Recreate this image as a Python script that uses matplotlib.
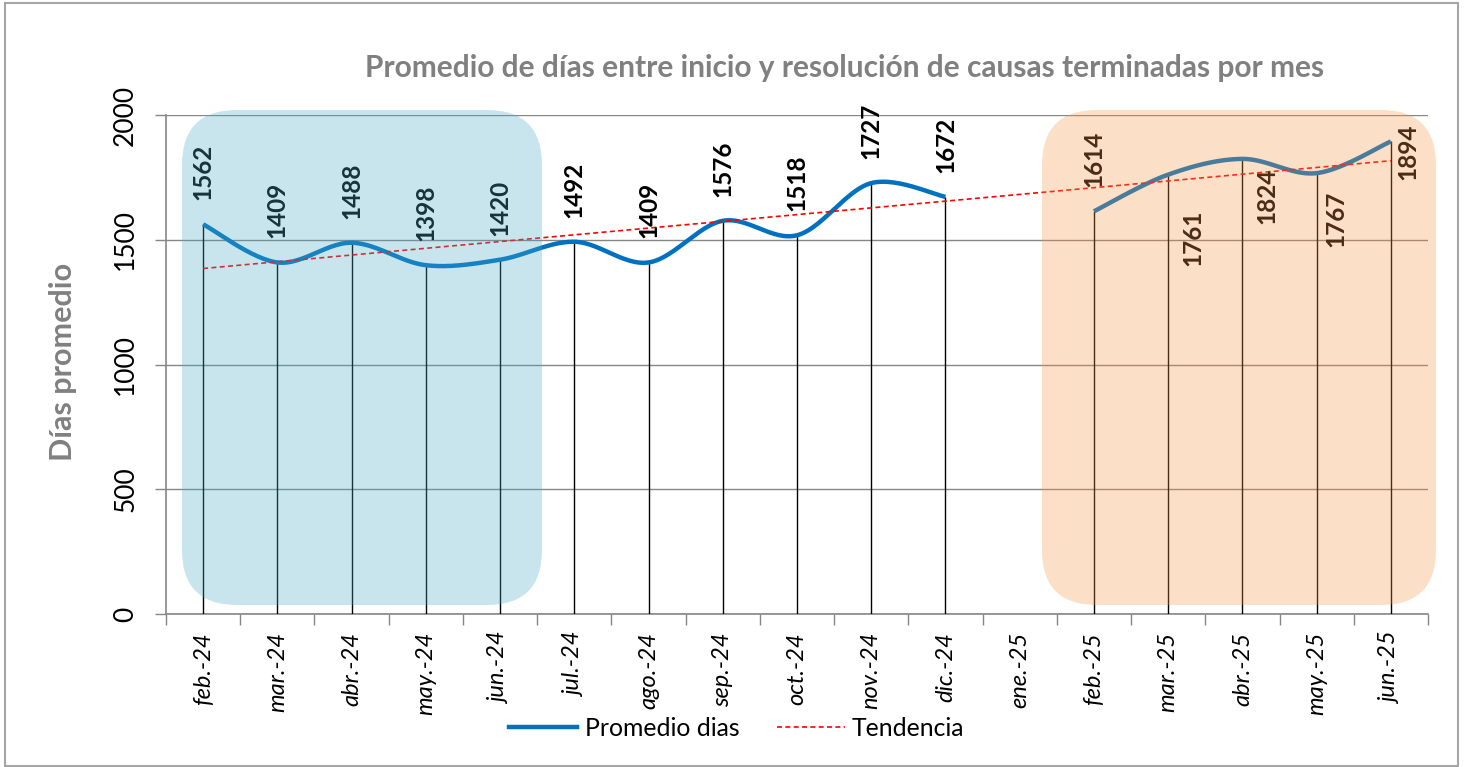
import numpy as np
import matplotlib
matplotlib.use("Agg")
import matplotlib.pyplot as plt
from matplotlib.patches import FancyBboxPatch, Rectangle
from matplotlib.lines import Line2D
from matplotlib.transforms import IdentityTransform

plt.rcParams['font.family'] = ['Lato', 'DejaVu Sans']

# ---------------- data ----------------
months = ["feb.-24", "mar.-24", "abr.-24", "may.-24", "jun.-24", "jul.-24", "ago.-24",
          "sep.-24", "oct.-24", "nov.-24", "dic.-24", "ene.-25", "feb.-25", "mar.-25",
          "abr.-25", "may.-25", "jun.-25"]
promedio = [1562, 1409, 1488, 1398, 1420, 1492, 1409, 1576, 1518, 1727, 1672,
            None, 1614, 1761, 1824, 1767, 1894]
title = "Promedio de días entre inicio y resolución de causas terminadas por mes"
ylabel = "Días promedio"
yticks = [0, 500, 1000, 1500, 2000]

# label offsets (pixels) for points whose label is not placed above
label_pos = {13: (25, -63), 14: (24, -37), 15: (19, -46), 16: (17, -10)}

W, H = 1467, 767
fig = plt.figure(figsize=(W / 100, H / 100), dpi=100)
ax = fig.add_axes([166 / W, 153 / H, (1428 - 166) / W, (652 - 153) / H])

x = np.arange(len(months), dtype=float)
y = np.array([np.nan if v is None else v for v in promedio], dtype=float)

# smoothed segments (Excel-like Catmull-Rom Bezier)
def smooth(xs, ys, n=30):
    px, py = [], []
    m = len(xs)
    for i in range(m - 1):
        x0, y0 = xs[max(i - 1, 0)], ys[max(i - 1, 0)]
        x1, y1 = xs[i], ys[i]
        x2, y2 = xs[i + 1], ys[i + 1]
        x3, y3 = xs[min(i + 2, m - 1)], ys[min(i + 2, m - 1)]
        c1x, c1y = x1 + (x2 - x0) / 6, y1 + (y2 - y0) / 6
        c2x, c2y = x2 - (x3 - x1) / 6, y2 - (y3 - y1) / 6
        t = np.linspace(0, 1, n)
        bx = (1 - t) ** 3 * x1 + 3 * (1 - t) ** 2 * t * c1x + 3 * (1 - t) * t ** 2 * c2x + t ** 3 * x2
        by = (1 - t) ** 3 * y1 + 3 * (1 - t) ** 2 * t * c1y + 3 * (1 - t) * t ** 2 * c2y + t ** 3 * y2
        px.extend(bx); py.extend(by)
    return np.array(px), np.array(py)

valid = ~np.isnan(y)
segs = []
cur = []
for i in range(len(x)):
    if valid[i]:
        cur.append(i)
    else:
        if cur:
            segs.append(cur)
        cur = []
if cur:
    segs.append(cur)

blue = "#0070C0"
for k, s in enumerate(segs):
    sx, sy = smooth(x[s], y[s])
    ax.plot(sx, sy, color=blue, lw=3.2, solid_capstyle='butt', zorder=4)

# drop lines
ax.vlines(x[valid], 0, y[valid], color="black", lw=1.0, zorder=3)

# trend line
coef = np.polyfit(x[valid], y[valid], 1)
tx = np.array([x[valid][0], x[valid][-1]])
ax.plot(tx, np.polyval(coef, tx), color="red", lw=1.2, ls=(0, (3, 2)), zorder=5)

# data labels
LFS = 17.5
for i in range(len(x)):
    if not valid[i]:
        continue
    if i in label_pos:
        dx, dy = label_pos[i]
        ax.annotate(f"{int(y[i])}", (x[i], y[i]), xytext=(dx, dy), textcoords='offset pixels',
                    rotation=90, ha='center', va='center', fontsize=LFS, fontweight='bold',
                    color='black', zorder=6)
    else:
        ax.annotate(f"{int(y[i])}", (x[i], y[i]), xytext=(0, 24), textcoords='offset pixels',
                    rotation=90, ha='center', va='bottom', fontsize=LFS, fontweight='bold',
                    color='black', zorder=6)

# axes styling
ax.set_xlim(-0.5, len(months) - 0.5)
ax.set_ylim(0, 2000)
ax.set_yticks(yticks)
ax.set_yticklabels([str(v) for v in yticks], rotation=90, va='center', fontsize=19)
ax.yaxis.grid(True, color="#868686", lw=1.0)
ax.set_axisbelow(True)
ax.set_xticks(np.arange(-0.5, len(months), 1.0))
ax.set_xticklabels([])
ax.set_xticks(x, minor=True)
ax.set_xticklabels(months, minor=True, rotation=90, fontsize=17, style='italic', va='top', ha='center')
ax.tick_params(axis='x', which='minor', length=0, pad=13)
ax.tick_params(axis='x', which='major', length=8, color="#868686", width=1)
ax.tick_params(axis='y', length=8, color="#868686", width=1, pad=12)
for sp in ['top', 'right']:
    ax.spines[sp].set_visible(False)
for sp in ['left', 'bottom']:
    ax.spines[sp].set_color("#868686")
    ax.spines[sp].set_linewidth(1.2)

# title & y label
fig.text(845 / W, 1 - 68 / H, title, ha='center', va='center', fontsize=21.5,
         fontweight='bold', color="#808080")
fig.text(63 / W, 1 - 362 / H, ylabel, ha='center', va='center', rotation=90, fontsize=22,
         fontweight='bold', color="#808080")

# legend
handles = [Line2D([], [], color=blue, lw=3.2),
           Line2D([], [], color="red", lw=1.2, ls=(0, (3, 2)))]
fig.legend(handles, ["Promedio dias", "Tendencia"], loc='center',
           bbox_to_anchor=(737 / W, 1 - 728 / H), ncol=2, frameon=False, fontsize=17.8,
           handlelength=2.75, handletextpad=0.3, columnspacing=1.5)

# overlay rounded boxes (semi-transparent)
for (x0, x1, col) in [(182, 542, "#4BACC6"), (1042, 1436, "#F79646")]:
    y0, y1 = H - 605, H - 110
    p = FancyBboxPatch((x0, y0), x1 - x0, y1 - y0,
                       boxstyle="round,pad=0,rounding_size=55",
                       transform=IdentityTransform(), facecolor=col, alpha=0.3,
                       edgecolor='none', zorder=10)
    fig.patches.append(p)
    p.set_figure(fig)

# outer border
fig.patches.append(Rectangle((5, 1), W - 5 - 9, H - 4, transform=IdentityTransform(),
                             fill=False, edgecolor="#A6A6A6", lw=1.5, zorder=11, figure=fig))

fig.savefig("out.png", dpi=100)
